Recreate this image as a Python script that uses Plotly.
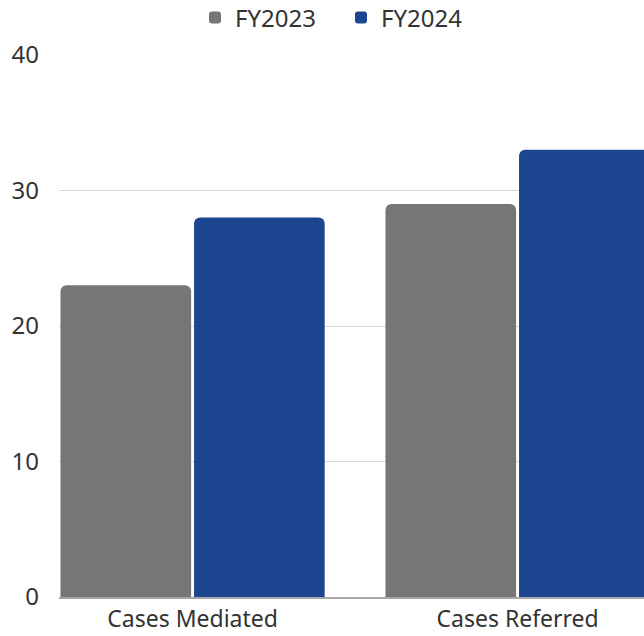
import plotly.graph_objects as go

categories = ["Cases Mediated", "Cases Referred"]
fy2023 = [23, 29]
fy2024 = [28, 33]
y_ticks = [0, 10, 20, 30, 40]

GRAY = "#767676"
BLUE = "#1c468f"

W, H = 644, 636
ML, MT, MB = 59, 55, 39
BARGAP = 0.178

fig = go.Figure()
fig.add_trace(go.Bar(name="FY2023", x=categories, y=fy2023, marker=dict(color=GRAY, line=dict(width=0))))
fig.add_trace(go.Bar(name="FY2024", x=categories, y=fy2024, marker=dict(color=BLUE, line=dict(width=0))))

fig.update_layout(
    width=W, height=H,
    margin=dict(l=ML, r=0, t=MT, b=MB, autoexpand=False),
    paper_bgcolor="white", plot_bgcolor="white",
    barmode="group", bargap=BARGAP, bargroupgap=0.022,
    barcornerradius=6,
    font=dict(family="Noto Sans, Inter, sans-serif", size=24, color="#333333"),
    showlegend=True,
    legend=dict(orientation="h", xref="container", yref="container",
                x=195 / W, y=1 - 18 / H,
                xanchor="left", yanchor="middle",
                entrywidth=101,
                font=dict(size=24, color="#333333"),
                traceorder="normal"),
    xaxis=dict(range=[-0.5 + BARGAP / 2, 1.389], showgrid=False, showline=True,
               linecolor="#a6a6a6", linewidth=1.5, ticks="",
               tickangle=0, automargin=False, ticklabelstandoff=1,
               tickfont=dict(size=23, color="#333333")),
    yaxis=dict(range=[0, 40], tickvals=y_ticks, showgrid=True,
               gridcolor="#d9d9d9", gridwidth=1, zeroline=False,
               showline=False, ticks="", ticklabelstandoff=19,
               automargin=False,
               tickfont=dict(size=24, color="#333333")),
)

fig.write_html("out.html", config={"displayModeBar": False},
               post_script="document.body.style.margin='0px';")
